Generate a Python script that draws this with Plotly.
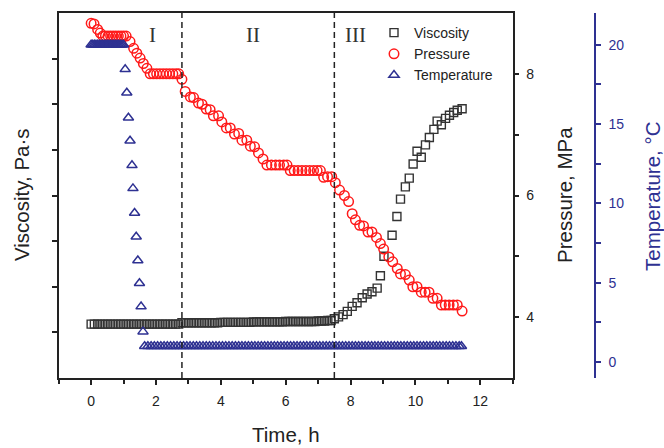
import plotly.graph_objects as go

# ---------------- data ----------------
visc_time = [
    0.0, 0.1, 0.2, 0.3, 0.4, 0.5, 0.6, 0.7, 0.8, 0.9,
    1.0, 1.1, 1.2, 1.3, 1.4, 1.5, 1.6, 1.7, 1.8, 1.9,
    2.0, 2.1, 2.2, 2.3, 2.4, 2.5, 2.6, 2.7, 2.8, 2.9,
    3.0, 3.1, 3.2, 3.3, 3.4, 3.5, 3.6, 3.7, 3.8, 3.9,
    4.0, 4.1, 4.2, 4.3, 4.4, 4.5, 4.6, 4.7, 4.8, 4.9,
    5.0, 5.1, 5.2, 5.3, 5.4, 5.5, 5.6, 5.7, 5.8, 5.9,
    6.0, 6.1, 6.2, 6.3, 6.4, 6.5, 6.6, 6.7, 6.8, 6.9,
    7.0, 7.1, 7.2, 7.3, 7.4,
    7.50, 7.63, 7.77, 7.90, 8.05, 8.20, 8.36, 8.51, 8.66, 8.82,
    8.92, 9.03, 9.28, 9.43, 9.54, 9.69, 9.81, 9.93, 10.05, 10.18,
    10.31, 10.43, 10.57, 10.67, 10.80, 10.93, 11.05, 11.18, 11.29, 11.44,
]
visc_vals = [
    1.18, 1.18, 1.18, 1.18, 1.18, 1.18, 1.18, 1.18, 1.18, 1.18,
    1.18, 1.18, 1.18, 1.18, 1.18, 1.18, 1.18, 1.18, 1.18, 1.18,
    1.18, 1.18, 1.18, 1.18, 1.18, 1.18, 1.18, 1.18, 1.21, 1.21,
    1.21, 1.21, 1.21, 1.21, 1.21, 1.21, 1.21, 1.21, 1.21, 1.21,
    1.22, 1.22, 1.22, 1.22, 1.22, 1.22, 1.22, 1.22, 1.22, 1.22,
    1.23, 1.23, 1.23, 1.23, 1.23, 1.23, 1.23, 1.23, 1.23, 1.23,
    1.24, 1.24, 1.24, 1.24, 1.24, 1.24, 1.24, 1.24, 1.24, 1.24,
    1.25, 1.25, 1.25, 1.26, 1.26,
    1.30, 1.34, 1.39, 1.46, 1.57, 1.65, 1.76, 1.84, 1.89, 1.97,
    2.24, 2.67, 3.13, 3.54, 3.92, 4.19, 4.38, 4.69, 4.97, 4.84,
    5.11, 5.27, 5.45, 5.63, 5.55, 5.69, 5.76, 5.82, 5.87, 5.90,
]

pres_time = [
    0.00, 0.09, 0.20, 0.28, 0.36, 0.44, 0.52, 0.60, 0.68, 0.76,
    0.84, 0.92, 1.00, 1.08, 1.20, 1.31, 1.41, 1.51, 1.61, 1.72,
    1.82, 1.92, 2.02, 2.12, 2.22, 2.32, 2.42, 2.52, 2.62, 2.70,
    2.80, 2.90, 3.06, 3.16, 3.31, 3.42, 3.55, 3.67, 3.77, 3.93,
    4.03, 4.17, 4.29, 4.42, 4.55, 4.65, 4.80, 4.91, 5.04, 5.16,
    5.30, 5.42, 5.56, 5.69, 5.81, 5.94, 6.04, 6.14, 6.26, 6.38,
    6.50, 6.62, 6.74, 6.86, 6.97, 7.07, 7.17, 7.29, 7.42, 7.53,
    7.66, 7.81, 7.94, 8.05, 8.15, 8.28, 8.40, 8.54, 8.66, 8.80,
    8.92, 9.02, 9.18, 9.30, 9.44, 9.54, 9.69, 9.81, 9.92, 10.05,
    10.18, 10.30, 10.42, 10.54, 10.67, 10.80, 10.92, 11.04, 11.17, 11.29,
    11.44,
]
pres_vals = [
    8.83, 8.82, 8.73, 8.67, 8.62, 8.62, 8.62, 8.62, 8.62, 8.62,
    8.62, 8.62, 8.62, 8.62, 8.53, 8.42, 8.34, 8.26, 8.17, 8.09,
    8.00, 8.00, 8.00, 8.00, 8.00, 8.00, 8.00, 8.00, 8.00, 8.00,
    7.91, 7.71, 7.62, 7.61, 7.52, 7.50, 7.42, 7.41, 7.31, 7.31,
    7.21, 7.11, 7.11, 7.01, 7.02, 6.91, 6.91, 6.81, 6.80, 6.70,
    6.60, 6.50, 6.50, 6.50, 6.50, 6.50, 6.50, 6.41, 6.41, 6.41,
    6.41, 6.41, 6.41, 6.41, 6.41, 6.41, 6.30, 6.31, 6.31, 6.21,
    6.09, 6.00, 5.90, 5.70, 5.60, 5.51, 5.50, 5.40, 5.40, 5.31,
    5.21, 5.12, 4.99, 4.91, 4.80, 4.71, 4.70, 4.61, 4.50, 4.50,
    4.41, 4.41, 4.41, 4.31, 4.31, 4.20, 4.20, 4.20, 4.20, 4.20,
    4.10,
]

temp_time = [
    0.00, 0.05, 0.10, 0.15, 0.20, 0.25, 0.30, 0.35, 0.40, 0.45,
    0.50, 0.55, 0.60, 0.65, 0.70, 0.75, 0.80, 0.85, 0.90, 0.95,
    1.00,
    1.05, 1.10, 1.15, 1.20, 1.26, 1.29, 1.34, 1.39, 1.44, 1.49,
    1.54, 1.60,
    1.65, 1.75, 1.85, 1.95, 2.05, 2.15, 2.25, 2.35, 2.45, 2.55,
    2.65, 2.75, 2.85, 2.95, 3.05, 3.15, 3.25, 3.35, 3.45, 3.55,
    3.65, 3.75, 3.85, 3.95, 4.05, 4.15, 4.25, 4.35, 4.45, 4.55,
    4.65, 4.75, 4.85, 4.95, 5.05, 5.15, 5.25, 5.35, 5.45, 5.55,
    5.65, 5.75, 5.85, 5.95, 6.05, 6.15, 6.25, 6.35, 6.45, 6.55,
    6.65, 6.75, 6.85, 6.95, 7.05, 7.15, 7.25, 7.35, 7.45, 7.55,
    7.65, 7.75, 7.85, 7.95, 8.05, 8.15, 8.25, 8.35, 8.45, 8.55,
    8.65, 8.75, 8.85, 8.95, 9.05, 9.15, 9.25, 9.35, 9.45, 9.55,
    9.65, 9.75, 9.85, 9.95, 10.05, 10.15, 10.25, 10.35, 10.45, 10.55,
    10.65, 10.75, 10.85, 10.95, 11.05, 11.15, 11.25, 11.35, 11.42,
]
temp_vals = [
    20.0, 20.0, 20.0, 20.0, 20.0, 20.0, 20.0, 20.0, 20.0, 20.0,
    20.0, 20.0, 20.0, 20.0, 20.0, 20.0, 20.0, 20.0, 20.0, 20.0,
    20.0,
    18.45, 16.98, 15.4, 13.95, 12.4, 10.95, 9.4, 7.9, 6.4, 4.97,
    3.5, 1.92,
    1.0, 1.0, 1.0, 1.0, 1.0, 1.0, 1.0, 1.0, 1.0, 1.0,
    1.0, 1.0, 1.0, 1.0, 1.0, 1.0, 1.0, 1.0, 1.0, 1.0,
    1.0, 1.0, 1.0, 1.0, 1.0, 1.0, 1.0, 1.0, 1.0, 1.0,
    1.0, 1.0, 1.0, 1.0, 1.0, 1.0, 1.0, 1.0, 1.0, 1.0,
    1.0, 1.0, 1.0, 1.0, 1.0, 1.0, 1.0, 1.0, 1.0, 1.0,
    1.0, 1.0, 1.0, 1.0, 1.0, 1.0, 1.0, 1.0, 1.0, 1.0,
    1.0, 1.0, 1.0, 1.0, 1.0, 1.0, 1.0, 1.0, 1.0, 1.0,
    1.0, 1.0, 1.0, 1.0, 1.0, 1.0, 1.0, 1.0, 1.0, 1.0,
    1.0, 1.0, 1.0, 1.0, 1.0, 1.0, 1.0, 1.0, 1.0, 1.0,
    1.0, 1.0, 1.0, 1.0, 1.0, 1.0, 1.0, 1.0, 1.0,
]

stage_bounds = [2.8, 7.5]
stage_labels = ["I", "II", "III"]
stage_label_x = [1.9, 5.0, 8.15]

x_ticks = [0, 2, 4, 6, 8, 10, 12]
visc_ticks = [1, 2, 3, 4, 5, 6, 7]
pres_ticks = [4, 6, 8]
temp_ticks = [0, 5, 10, 15, 20]

# ---------------- styling ----------------
BLUE = "#2e3192"
RED = "#ff1a1a"
DARK = "#333333"
AX = "#222222"
SANS = "Liberation Sans, Arial, sans-serif"
SERIF = "Liberation Serif, Times New Roman, serif"

fig = go.Figure()
fig.add_trace(go.Scatter(
    x=visc_time, y=visc_vals, mode="markers", name="Viscosity", yaxis="y",
    marker=dict(symbol="square-open", size=8, color=DARK, line=dict(width=1.4, color=DARK)),
))
fig.add_trace(go.Scatter(
    x=pres_time, y=pres_vals, mode="markers", name="Pressure", yaxis="y2",
    marker=dict(symbol="circle-open", size=9.5, color=RED, line=dict(width=1.5, color=RED)),
))
fig.add_trace(go.Scatter(
    x=temp_time, y=temp_vals, mode="markers", name="Temperature", yaxis="y3",
    marker=dict(symbol="triangle-up-open", size=9, color=BLUE, line=dict(width=1.5, color=BLUE)),
))

shapes = []
for b in stage_bounds:
    shapes.append(dict(type="line", xref="x", yref="paper", x0=b, x1=b, y0=0, y1=1,
                       line=dict(color=AX, width=1.5, dash="6px,4px")))

annotations = []
for lab, lx in zip(stage_labels, stage_label_x):
    annotations.append(dict(text=lab, x=lx, y=8.64, xref="x", yref="y2", showarrow=False,
                            xanchor="center", yanchor="middle",
                            font=dict(family=SERIF, size=21, color=DARK)))


def py(pix):
    return 1 - (pix - 13) / 365


annotations += [
    dict(text="Viscosity, Pa·s", x=22 / 664, y=py(195), xref="paper", yref="paper",
         xanchor="center", yanchor="middle",
         textangle=-90, showarrow=False, font=dict(family=SANS, size=20.5, color=AX)),
    dict(text="Pressure, MPa", x=565 / 664, y=py(195), xref="paper", yref="paper",
         xanchor="center", yanchor="middle",
         textangle=-90, showarrow=False, font=dict(family=SANS, size=20.5, color=AX)),
    dict(text="Temperature, °C", x=652 / 664, y=py(196), xref="paper", yref="paper",
         xanchor="center", yanchor="middle",
         textangle=-90, showarrow=False, font=dict(family=SANS, size=20.5, color=BLUE)),
    dict(text="Time, h", x=286 / 664, y=py(435), xref="paper", yref="paper",
         xanchor="center", yanchor="middle",
         showarrow=False, font=dict(family=SANS, size=20.5, color=AX)),
]

common_axis = dict(showgrid=False, zeroline=False, showline=True, linewidth=1.5,
                   ticks="outside", ticklen=5, tickwidth=1.5)

fig.update_layout(
    width=664, height=448,
    margin=dict(l=0, r=0, t=13, b=70),
    paper_bgcolor="white", plot_bgcolor="white",
    font=dict(family=SANS, size=14, color=AX),
    showlegend=True,
    legend=dict(x=374 / 664, y=py(17), xanchor="left", yanchor="top",
                bgcolor="rgba(0,0,0,0)", borderwidth=0, font=dict(family=SANS, size=14, color=AX),
                tracegroupgap=0),
    xaxis=dict(domain=[58.7 / 664, 512.7 / 664], range=[-1, 13], tickvals=x_ticks,
               linecolor=AX, tickcolor=AX, mirror=True, ticklabelstandoff=4,
               minor=dict(ticks="outside", tickvals=[-1, 1, 3, 5, 7, 9, 11, 13], ticklen=4, tickwidth=1.5, tickcolor=AX),
               tickfont=dict(size=14, color=AX), **common_axis),
    yaxis=dict(range=[0, 8], tickvals=visc_ticks, showticklabels=False, linecolor=AX, tickcolor=AX,
               **common_axis),
    yaxis2=dict(overlaying="y", side="right", anchor="x", range=[3, 9], tickvals=pres_ticks,
                linecolor=AX, tickcolor=AX, ticklabelstandoff=4,
                minor=dict(ticks="outside", tickvals=[5, 7], ticklen=5, tickwidth=1.5, tickcolor=AX),
                tickfont=dict(size=14, color=AX), **common_axis),
    yaxis3=dict(overlaying="y", side="right", anchor="free", position=595 / 664, range=[-1, 22],
                tickvals=temp_ticks, linecolor=BLUE, tickcolor=BLUE, ticklabelstandoff=5,
                minor=dict(ticks="outside", tickvals=[2.5, 7.5, 12.5, 17.5], ticklen=5, tickwidth=1.5, tickcolor=BLUE),
                tickfont=dict(size=14, color=BLUE), **common_axis),
    shapes=shapes,
    annotations=annotations,
)

fig.write_html("out.html")
